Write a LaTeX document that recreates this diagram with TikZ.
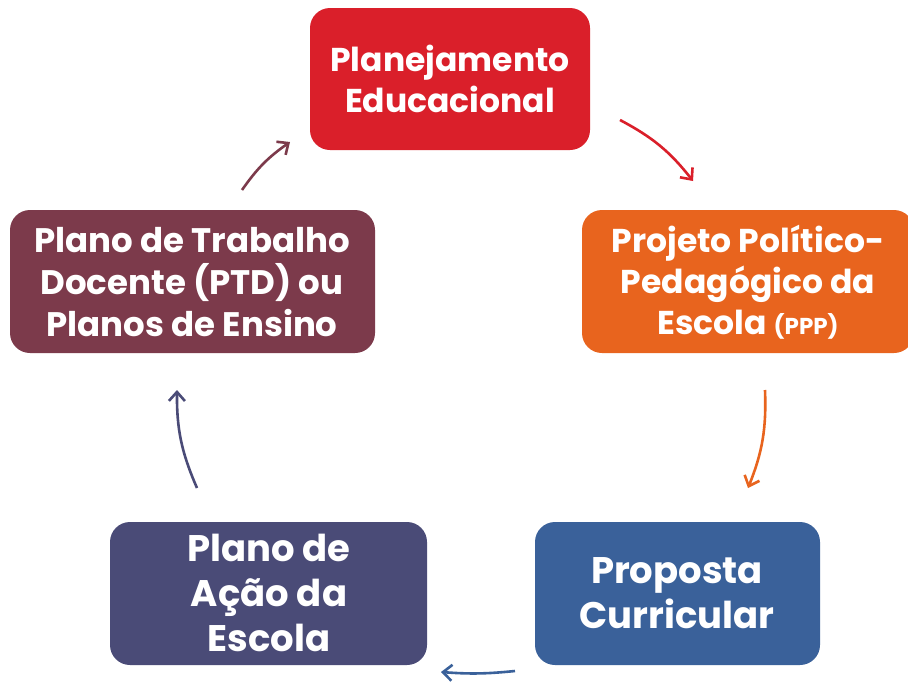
\documentclass[tikz,border=0pt]{standalone}
\usepackage{fontspec}
\setmainfont{Poppins}
\usetikzlibrary{arrows.meta}
\definecolor{cred}{HTML}{DA1F2A}
\definecolor{corange}{HTML}{E8641E}
\definecolor{cblue}{HTML}{3A619A}
\definecolor{cpurple}{HTML}{4A4B77}
\definecolor{cmaroon}{HTML}{7C3A4B}
\begin{document}
\begin{tikzpicture}[x=1pt,y=-1pt,
  box/.style={rounded corners=20pt, text=white, align=center, inner sep=0pt,
    font=\bfseries\fontsize{33}{41}\selectfont},
  midbox/.style={box, font=\bfseries\fontsize{34}{42}\selectfont},
  bigbox/.style={box, font=\bfseries\fontsize{37}{45}\selectfont},
  arr/.style={line width=2.6pt, -{Straight Barb[length=9pt,width=16pt,line width=2.6pt]}}]
\useasboundingbox (0,0) rectangle (908,683);
\fill[cred, rounded corners=20pt] (310,8) rectangle (590,150);
\node[box] (plan) at (450,79) {Planejamento\\Educacional};
\fill[corange, rounded corners=20pt] (582,210) rectangle (914,353);
\node[box] (ppp) at (748,282) {Projeto Político-\\Pedagógico da\\Escola {\fontsize{23}{26}\selectfont(PPP)}};
\fill[cblue, rounded corners=20pt] (535,522) rectangle (820,665);
\node[bigbox] (prop) at (677,593) {Proposta\\Curricular};
\fill[cpurple, rounded corners=20pt] (110,522) rectangle (427,665);
\node[bigbox] (acao) at (269,593) {Plano de\\Ação da\\Escola};
\fill[cmaroon, rounded corners=20pt] (10,210) rectangle (375,353);
\node[midbox] (ptd) at (192,282) {Plano de Trabalho\\Docente (PTD) ou\\Planos de Ensino};
\coordinate (a1s) at (620,120); \coordinate (a1e) at (693,181);
\coordinate (a2s) at (765,390); \coordinate (a2e) at (748,488);
\coordinate (a3s) at (515,671); \coordinate (a3e) at (441,672);
\coordinate (a4s) at (197,488); \coordinate (a4e) at (177,390);
\coordinate (a5s) at (242,190); \coordinate (a5e) at (290,142);
\draw[arr, cred] (a1s) to[bend left=12] (a1e);
\draw[arr, corange] (a2s) to[bend left=12] (a2e);
\draw[arr, cblue] (a3s) to[bend left=5] (a3e);
\draw[arr, cpurple] (a4s) to[bend left=12] (a4e);
\draw[arr, cmaroon] (a5s) to[bend left=10] (a5e);
\end{tikzpicture}
\end{document}
